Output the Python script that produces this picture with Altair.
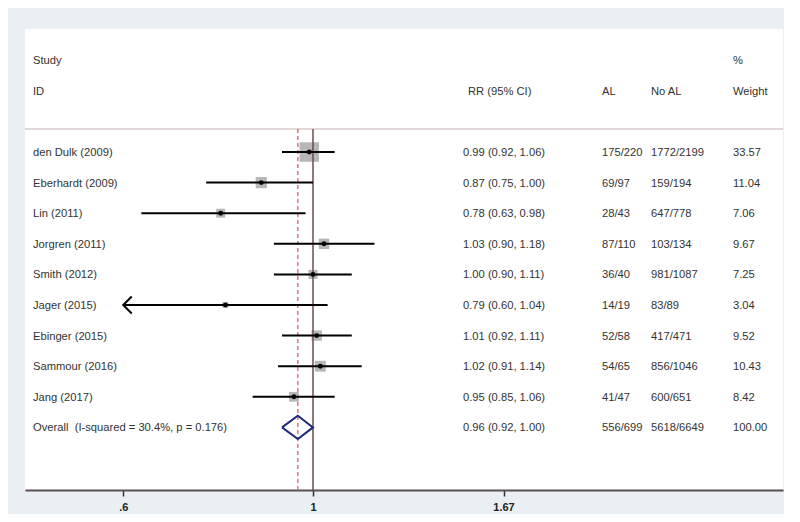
import altair as alt
import pandas as pd

# ---------------- data ----------------
studies = ["den Dulk (2009)", "Eberhardt (2009)", "Lin (2011)", "Jorgren (2011)",
           "Smith (2012)", "Jager (2015)", "Ebinger (2015)", "Sammour (2016)", "Jang (2017)"]
rr = [0.99, 0.87, 0.78, 1.03, 1.00, 0.79, 1.01, 1.02, 0.95]
lower = [0.92, 0.75, 0.63, 0.90, 0.90, 0.60, 0.92, 0.91, 0.85]
upper = [1.06, 1.00, 0.98, 1.18, 1.11, 1.04, 1.11, 1.14, 1.06]
al = ["175/220", "69/97", "28/43", "87/110", "36/40", "14/19", "52/58", "54/65", "41/47"]
no_al = ["1772/2199", "159/194", "647/778", "103/134", "981/1087", "83/89",
         "417/471", "856/1046", "600/651"]
weights = [33.57, 11.04, 7.06, 9.67, 7.25, 3.04, 9.52, 10.43, 8.42]

overall_label = "Overall\u00a0\u00a0(I-squared = 30.4%, p = 0.176)"
overall_rr = 0.96
overall_lower = 0.92
overall_upper = 1.00
overall_al = "556/699"
overall_noal = "5618/6649"
overall_weight = 100.00

tick_values = [0.6, 1, 1.67]
headers_top = ["Study", "%"]
headers_bottom = ["ID", "RR (95% CI)", "AL", "No AL", "Weight"]

# ---------------- layout / style ----------------
FONT = "Liberation Sans"
TXT = "#333333"
FS = 11.2
W, H = 758, 461
X_DOMAIN = [0.4606, 3.5435]
Y_DOMAIN = [-4.02, 11.046]
CI_MIN = tick_values[0]

x_scale = alt.Scale(type="log", domain=X_DOMAIN, nice=False, zero=False)
y_scale = alt.Scale(domain=Y_DOMAIN, reverse=True, nice=False, zero=False)
x_axis = alt.Axis(values=tick_values, format=".3~g",
                  labelExpr="replace(datum.label, '0.', '.')",
                  title=None, grid=False, domainColor="#5b5050", domainWidth=2,
                  tickColor="#333333", tickSize=6, tickWidth=1.5,
                  labelFont=FONT, labelFontSize=11, labelColor="#222222",
                  labelPadding=5, labelFontWeight="bold")

n = len(studies)
df = pd.DataFrame({
    "study": studies, "rr": rr, "lower": lower, "upper": upper,
    "al": al, "noal": no_al, "weight": weights, "row": list(range(n)),
})
df["lo_plot"] = df["lower"].clip(lower=CI_MIN)
df["clipped"] = df["lower"] <= CI_MIN
df["rr_text"] = [f"{r:.2f} ({l:.2f}, {u:.2f})" for r, l, u in zip(rr, lower, upper)]
df["w_text"] = [f"{w:.2f}" for w in weights]

ov_row = n
tab = pd.concat([
    df[["study", "rr_text", "al", "noal", "w_text", "row"]],
    pd.DataFrame({"study": [overall_label],
                  "rr_text": [f"{overall_rr:.2f} ({overall_lower:.2f}, {overall_upper:.2f})"],
                  "al": [overall_al], "noal": [overall_noal],
                  "w_text": [f"{overall_weight:.2f}"], "row": [ov_row]}),
], ignore_index=True)

X = lambda f: alt.X(f, type="quantitative", scale=x_scale, axis=x_axis)
Y = lambda f: alt.Y(f, type="quantitative", scale=y_scale, axis=None)

sep_row = -0.75
ref = pd.DataFrame({"x": [1.0], "y": [sep_row], "y2": [Y_DOMAIN[1]]})
ref_ov = pd.DataFrame({"x": [overall_rr], "y": [sep_row], "y2": [Y_DOMAIN[1]]})

sep = alt.Chart(pd.DataFrame({"y": [sep_row]})).mark_rule(
    color="#d8c8c8", strokeWidth=1.5).encode(y=Y("y"))

boxes = alt.Chart(df).mark_square(color="#b7b7b7", opacity=1).encode(
    x=X("rr"), y=Y("row"),
    size=alt.Size("weight:Q", scale=alt.Scale(domain=[0, max(weights)], range=[0, 380]),
                  legend=None))

null_line = alt.Chart(ref).mark_rule(color="#6e4b4b", strokeWidth=1.5).encode(
    x=X("x"), y=Y("y"), y2="y2")
ov_line = alt.Chart(ref_ov).mark_rule(color="#d47a78", strokeWidth=1.5,
                                      strokeDash=[4, 3]).encode(
    x=X("x"), y=Y("y"), y2="y2")

ci = alt.Chart(df).mark_rule(color="black", strokeWidth=2).encode(
    x=X("lo_plot"), x2="upper", y=Y("row"))

dots = alt.Chart(df).mark_point(filled=True, color="black", size=24, opacity=1).encode(
    x=X("rr"), y=Y("row"))

arrows = alt.Chart(df).transform_filter("datum.clipped").mark_point(
    shape="M1,-1L0,0L1,1", filled=False, color="black", strokeWidth=2,
    size=289, opacity=1).encode(x=X("lo_plot"), y=Y("row"))

dh = 0.38
diamond_df = pd.DataFrame({
    "x": [overall_lower, overall_rr, overall_upper, overall_rr, overall_lower],
    "y": [ov_row, ov_row - dh, ov_row, ov_row + dh, ov_row],
    "o": [0, 1, 2, 3, 4],
})
diamond = alt.Chart(diamond_df).mark_line(color="#1f2a7a", strokeWidth=2).encode(
    x=X("x"), y=Y("y"), order="o:Q")


def col_text(field, px):
    return alt.Chart(tab).mark_text(align="left", baseline="middle", font=FONT,
                                    fontSize=FS, color=TXT, dy=1).encode(
        x=alt.value(px), y=Y("row"), text=f"{field}:N")


cols = [("study", 8), ("rr_text", 438), ("al", 577), ("noal", 626), ("w_text", 708)]
texts = [col_text(f, p) for f, p in cols]

hdr_top = pd.DataFrame({"t": headers_top, "px": [8, 708], "row": [-3, -3]})
hdr_bot = pd.DataFrame({"t": headers_bottom, "px": [8, 443, 577, 626, 708],
                        "row": [-2] * 5})
hdr = alt.Chart(pd.concat([hdr_top, hdr_bot], ignore_index=True)).mark_text(
    align="left", baseline="middle", font=FONT, fontSize=FS, color=TXT, dy=1).encode(
    x=alt.X("px:Q", scale=None, axis=None), y=Y("row"), text="t:N")

chart = alt.layer(sep, boxes, null_line, ov_line, ci, dots, arrows, diamond, *texts, hdr).properties(
    width=W, height=H,
    background="#e9eff3",
    padding={"left": 17, "top": 21, "right": 1, "bottom": 24},
    autosize=alt.AutoSizeParams(type="none"),
).configure_view(fill="white", stroke=None)

chart.save("out.html", embed_options={"renderer": "svg", "actions": False})
